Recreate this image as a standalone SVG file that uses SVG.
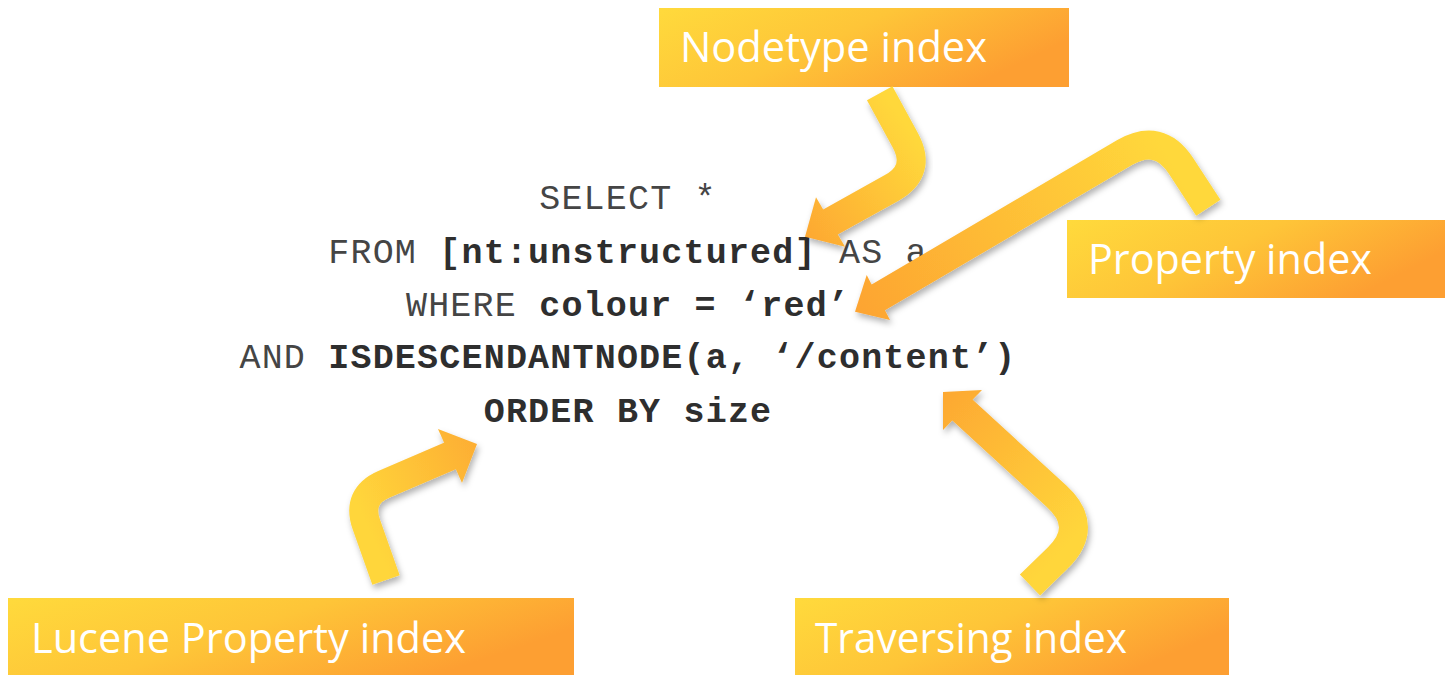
<svg xmlns="http://www.w3.org/2000/svg" width="1445" height="675" viewBox="0 0 1445 675">
  <style>
    .box { fill: url(#boxFill); }
    .label { font-family: "Open Sans", "Noto Sans", sans-serif; font-size: 42px; fill: #ffffff; }
    .code { font-family: "Liberation Mono", "Courier New", monospace; font-size: 35px; letter-spacing: 1.2px; fill: #454545; text-anchor: middle; }
    .code .b { font-weight: bold; fill: #2e2e2e; }
    .body { fill: none; stroke-width: 29; stroke-linecap: butt; stroke-linejoin: round; }
  </style>
  <defs>
    <linearGradient id="boxFill" x1="0" y1="0" x2="1" y2="0.4">
      <stop offset="0" stop-color="#FFDA3C"/>
      <stop offset="0.5" stop-color="#FEC538"/>
      <stop offset="1" stop-color="#FD9F32"/>
    </linearGradient>
    <linearGradient id="gNode" gradientUnits="userSpaceOnUse" x1="925" y1="150" x2="805" y2="237">
      <stop offset="0" stop-color="#FFD83B"/>
      <stop offset="1" stop-color="#FDA832"/>
    </linearGradient>
    <linearGradient id="gProp" gradientUnits="userSpaceOnUse" x1="1160" y1="140" x2="855" y2="311">
      <stop offset="0" stop-color="#FFD83B"/>
      <stop offset="1" stop-color="#FDA431"/>
    </linearGradient>
    <linearGradient id="gLuc" gradientUnits="userSpaceOnUse" x1="355" y1="500" x2="477" y2="444">
      <stop offset="0" stop-color="#FFD63B"/>
      <stop offset="1" stop-color="#FDAE33"/>
    </linearGradient>
    <linearGradient id="gTrav" gradientUnits="userSpaceOnUse" x1="1085" y1="527" x2="943" y2="392">
      <stop offset="0" stop-color="#FFD63B"/>
      <stop offset="1" stop-color="#FDA832"/>
    </linearGradient>
    <filter id="shadow" x="-20%" y="-20%" width="140%" height="140%">
      <feDropShadow dx="2" dy="4" stdDeviation="3" flood-color="#000000" flood-opacity="0.3"/>
    </filter>
  </defs>

  <rect width="1445" height="675" fill="#ffffff"/>

  <!-- query text -->
  <g id="query">
    <text class="code" x="628" y="209">SELECT *</text>
    <text class="code" x="628" y="263">FROM <tspan class="b">[nt:unstructured]</tspan> AS a</text>
    <text class="code" x="628" y="316">WHERE <tspan class="b">colour = ‘red’</tspan></text>
    <text class="code" x="628" y="368">AND <tspan class="b">ISDESCENDANTNODE(a, ‘/content’)</tspan></text>
    <text class="code" x="628" y="422"><tspan class="b">ORDER BY size</tspan></text>
  </g>

  <!-- index labels -->
  <g id="nodetype-index">
    <rect class="box" x="659" y="8" width="410" height="79"/>
    <text class="label" x="680" y="62" textLength="307" lengthAdjust="spacingAndGlyphs">Nodetype index</text>
  </g>
  <g id="property-index">
    <rect class="box" x="1067" y="220" width="378" height="78"/>
    <text class="label" x="1088" y="274" textLength="284" lengthAdjust="spacingAndGlyphs">Property index</text>
  </g>
  <g id="lucene-property-index">
    <rect class="box" x="8" y="598" width="566" height="77"/>
    <text class="label" x="31" y="653" textLength="435" lengthAdjust="spacingAndGlyphs">Lucene Property index</text>
  </g>
  <g id="traversing-index">
    <rect class="box" x="795" y="598" width="434" height="77"/>
    <text class="label" x="815" y="653" textLength="312" lengthAdjust="spacingAndGlyphs">Traversing index</text>
  </g>

  <!-- bent arrows from each index to the part of the query it serves -->
  <g id="connectors">
    <g filter="url(#shadow)">
      <path class="body" stroke="url(#gNode)" d="M879.7,93.3 L905.3,140.2 Q922,170.9 891.5,188 L828,223.4"/>
      <polygon fill="url(#gNode)" points="816,197.3 805,236.7 845,246.7"/>
    </g>
    <g filter="url(#shadow)">
      <path class="body" stroke="url(#gProp)" d="M1208.3,207.7 L1181,165.9 Q1159.1,132.4 1124.6,152.6 L876,298.8"/>
      <polygon fill="url(#gProp)" points="866.7,275 855,311.7 890,320"/>
    </g>
    <g filter="url(#shadow)">
      <path class="body" stroke="url(#gLuc)" d="M386,580 L366.4,524.6 Q356.4,496.3 384,484.3 L452.5,454.9"/>
      <polygon fill="url(#gLuc)" points="438,429 477,444 462,483"/>
    </g>
    <g filter="url(#shadow)">
      <path class="body" stroke="url(#gTrav)" d="M1030,585 L1057.6,558.1 Q1089.8,526.7 1056.6,496.3 L960.5,408.2"/>
      <polygon fill="url(#gTrav)" points="982,390 943,392 943,430"/>
    </g>
  </g>
</svg>
